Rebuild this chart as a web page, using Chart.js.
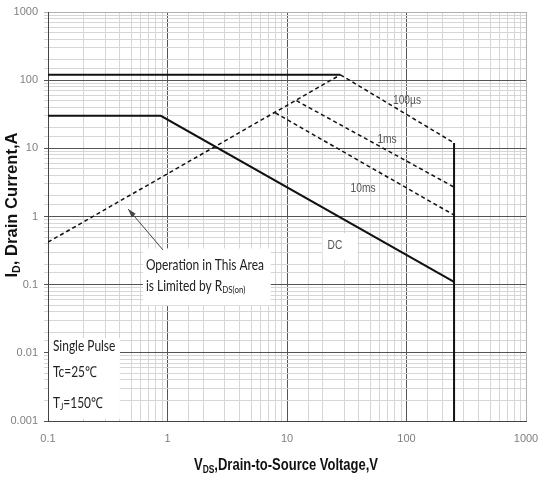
<!DOCTYPE html>
<html>
<head>
<meta charset="utf-8">
<script src="https://cdn.jsdelivr.net/npm/chart.js@4.4.0/dist/chart.umd.min.js"></script>
<style>
  html, body { margin: 0; padding: 0; background: #fff; }
  #soa { display: block; }
</style>
</head>
<body>
<canvas id="soa" width="539" height="480"></canvas>
<script>
// axis ticks (decades only get a label)
const xTickLabels = ['0.1', '1', '10', '100', '1000'];
const yTickLabels = ['0.001', '0.01', '0.1', '1', '10', '100', '1000'];

// package current limit
const limitV = [0.1, 28];
const limitI = [120, 120];
// RDS(on) limit line
const rdsV = [0.1, 28];
const rdsI = [0.42, 120];
// pulse limits
const p100usV = [28, 250];
const p100usI = [120, 12];
const p1msV = [12, 250];
const p1msI = [50, 2.7];
const p10msV = [8, 250];
const p10msI = [33, 1.05];
// DC
const dcV = [0.1, 0.88, 250];
const dcI = [30, 30, 0.11];
// BVdss limit
const vmaxV = [250, 250];
const vmaxI = [12, 0.001];

const SANS = "'Liberation Sans', Arial, sans-serif";
const NOTE = "Lato, 'Liberation Sans', sans-serif";

function pts(xs, ys) {
    return xs.map((x, i) => ({ x: x, y: ys[i] }));
}

function isDecade(v) {
    const l = Math.log10(v);
    return Math.abs(l - Math.round(l)) < 1e-6;
}

function solid(data) {
    return { data: data, borderColor: '#111', borderWidth: 2, pointRadius: 0, fill: false, tension: 0 };
}

function dashed(data) {
    return { data: data, borderColor: '#111', borderWidth: 1.5, borderDash: [4, 3], pointRadius: 0, fill: false, tension: 0 };
}

// white boxes behind the notes, in data coordinates
const boxes = [
    { x1: 0.61, x2: 7.3, y1: 0.34, y2: 0.05 },
    { x1: 0.1, x2: 0.4, y1: 0.0165, y2: 0.00108 },
    { x1: 19.5, x2: 39, y1: 0.57, y2: 0.23 }
];

const curveLabels = [
    { text: '100µs', x: 101, y: 51 },
    { text: '1ms', x: 68.7, y: 13.7 },
    { text: '10ms', x: 43.3, y: 2.54 },
    { text: 'DC', x: 25.2, y: 0.38 }
];

// draw a list of text runs squeezed horizontally by sx
function runs(ctx, list, x, y, sx, align) {
    let total = 0;
    list.forEach(r => { ctx.font = r.font; r.w = ctx.measureText(r.t).width; total += r.w; });
    ctx.save();
    ctx.translate(x, y);
    ctx.scale(sx, 1);
    let cx = align === 'center' ? -total / 2 : 0;
    ctx.textAlign = 'left';
    list.forEach(r => {
        ctx.font = r.font;
        ctx.fillText(r.t, cx, r.dy || 0);
        cx += r.w;
    });
    ctx.restore();
    return total * sx;
}

function widthOf(ctx, font, t) {
    ctx.font = font;
    return ctx.measureText(t).width;
}

const annoPlugin = {
    id: 'anno',
    beforeDatasetsDraw(chart) {
        const { ctx, scales: { x, y } } = chart;
        ctx.save();
        ctx.fillStyle = '#fff';
        boxes.forEach(b => {
            const l = x.getPixelForValue(b.x1), r = x.getPixelForValue(b.x2);
            const t = y.getPixelForValue(b.y1), bt = y.getPixelForValue(b.y2);
            ctx.fillRect(l + 1, t, r - l - 1, bt - t);
        });
        ctx.restore();
    },
    afterDatasetsDraw(chart) {
        const { ctx, scales: { x, y } } = chart;
        ctx.save();
        ctx.textBaseline = 'middle';

        // curve labels
        ctx.fillStyle = '#555';
        const lf = '13px ' + SANS;
        const lsx = 28 / widthOf(ctx, lf, '100µs');
        curveLabels.forEach(c => {
            runs(ctx, [{ t: c.text, font: lf }], x.getPixelForValue(c.x), y.getPixelForValue(c.y), lsx, 'center');
        });

        // RDS(on) note
        ctx.fillStyle = '#222';
        const nf = '15px ' + NOTE, nsf = '10px ' + NOTE;
        const nsx = 118 / widthOf(ctx, nf, 'Operation in This Area');
        const nx = x.getPixelForValue(0.66);
        runs(ctx, [{ t: 'Operation in This Area', font: nf }], nx, y.getPixelForValue(0.195), nsx);
        runs(ctx, [{ t: 'is Limited by R', font: nf }, { t: 'DS(on)', font: nsf, dy: 4 }],
            nx, y.getPixelForValue(0.096), nsx);

        // arrow
        const ax1 = x.getPixelForValue(0.917), ay1 = y.getPixelForValue(0.323);
        const ax2 = x.getPixelForValue(0.468), ay2 = y.getPixelForValue(1.29);
        ctx.strokeStyle = '#444';
        ctx.lineWidth = 1;
        ctx.beginPath();
        ctx.moveTo(ax1, ay1);
        ctx.lineTo(ax2, ay2);
        ctx.stroke();
        const ang = Math.atan2(ay2 - ay1, ax2 - ax1);
        ctx.fillStyle = '#444';
        ctx.beginPath();
        ctx.moveTo(ax2, ay2);
        ctx.lineTo(ax2 - 9 * Math.cos(ang - 0.3), ay2 - 9 * Math.sin(ang - 0.3));
        ctx.lineTo(ax2 - 9 * Math.cos(ang + 0.3), ay2 - 9 * Math.sin(ang + 0.3));
        ctx.closePath();
        ctx.fill();

        // test conditions
        ctx.fillStyle = '#222';
        const tx = x.getPixelForValue(0.11);
        runs(ctx, [{ t: 'Single Pulse', font: nf }], tx, y.getPixelForValue(0.0126), nsx);
        runs(ctx, [{ t: 'Tc=25℃', font: nf }], tx, y.getPixelForValue(0.0052), nsx);
        runs(ctx, [{ t: 'T', font: nf }, { t: 'J', font: nsf, dy: 4 }, { t: '=150℃', font: nf }],
            tx, y.getPixelForValue(0.00184), nsx);

        ctx.restore();
    },
    afterDraw(chart) {
        const { ctx } = chart;
        ctx.save();
        ctx.fillStyle = '#111';
        ctx.textBaseline = 'middle';

        // x title, condensed
        const big = 'bold 17px ' + SANS, small = 'bold 11px ' + SANS;
        const xr = [{ t: 'V', font: big }, { t: 'DS', font: small, dy: 5 }, { t: ',Drain-to-Source Voltage,V', font: big }];
        let tw = 0;
        xr.forEach(r => { tw += widthOf(ctx, r.font, r.t); });
        runs(ctx, xr, 286, 465, 184 / tw, 'center');

        // y title, rotated
        ctx.translate(12, 205);
        ctx.rotate(-Math.PI / 2);
        const yr = [{ t: 'I', font: big }, { t: 'D', font: small, dy: 5 }, { t: ', Drain Current,A', font: big }];
        tw = 0;
        yr.forEach(r => { tw += widthOf(ctx, r.font, r.t); });
        runs(ctx, yr, 0, 0, 145 / tw, 'center');
        ctx.restore();
    }
};

function gridColor(ctx) {
    const v = ctx.tick && ctx.tick.value;
    if (v === undefined) return '#d6d6d6';
    if (isDecade(v)) {
        if (Math.abs(v - 1000) < 1e-6) return '#b0b0b0';
        return '#555';
    }
    return '#d6d6d6';
}

function tickLabel(list) {
    return function(value) {
        if (!isDecade(value)) return '';
        const s = list.find(t => Math.abs(parseFloat(t) - value) < value * 1e-6);
        return s || '';
    };
}

new Chart(document.getElementById('soa'), {
    type: 'line',
    data: {
        datasets: [
            solid(pts(limitV, limitI)),
            dashed(pts(rdsV, rdsI)),
            dashed(pts(p100usV, p100usI)),
            dashed(pts(p1msV, p1msI)),
            dashed(pts(p10msV, p10msI)),
            solid(pts(dcV, dcI)),
            solid(pts(vmaxV, vmaxI))
        ]
    },
    options: {
        responsive: false,
        animation: false,
        layout: { padding: { top: 12, right: 13, left: 0, bottom: 0 } },
        plugins: {
            legend: { display: false },
            tooltip: { enabled: false }
        },
        scales: {
            x: {
                type: 'logarithmic',
                min: 0.1,
                max: 1000,
                border: { color: '#444', width: 1 },
                grid: { color: gridColor, drawTicks: false },
                ticks: {
                    autoSkip: false,
                    maxRotation: 0,
                    padding: 11,
                    color: '#808080',
                    font: { family: SANS, size: 11 },
                    callback: tickLabel(xTickLabels)
                },
                afterFit(s) {
                    s.height = 59;
                    s.paddingLeft = 0;
                    s.paddingRight = 0;
                }
            },
            y: {
                type: 'logarithmic',
                min: 0.001,
                max: 1000,
                border: { color: '#444', width: 1 },
                grid: { color: gridColor, tickLength: 4 },
                ticks: {
                    autoSkip: false,
                    padding: 6,
                    color: '#808080',
                    font: { family: SANS, size: 11 },
                    callback: tickLabel(yTickLabels)
                },
                afterFit(s) {
                    s.width = 48;
                    s.paddingTop = 0;
                    s.paddingBottom = 0;
                }
            }
        }
    },
    plugins: [annoPlugin]
});
</script>
</body>
</html>
